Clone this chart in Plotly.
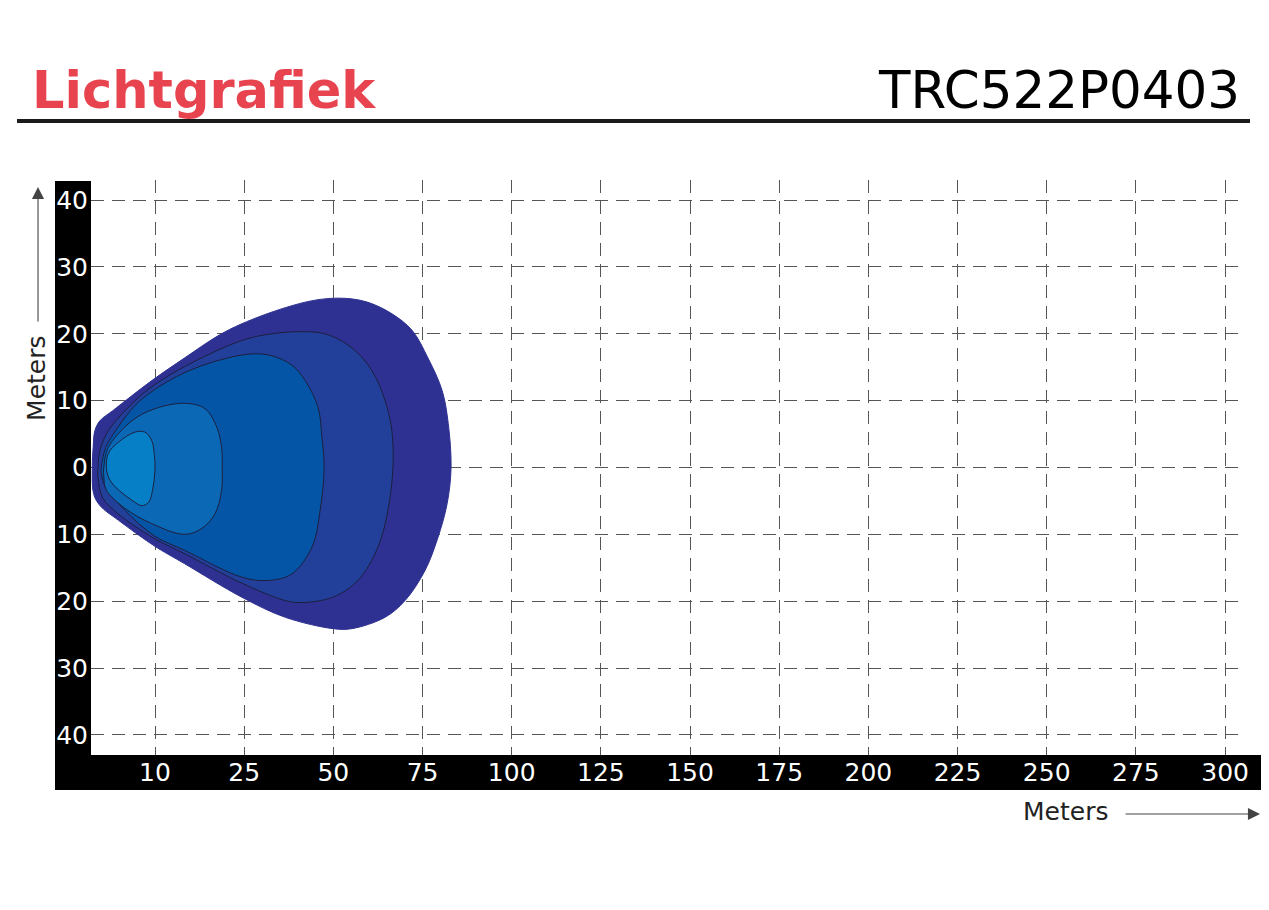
import numpy as np
import plotly.graph_objects as go

# ---------------- data ----------------
X_TICK_METERS = [10, 25, 50, 75, 100, 125, 150, 175, 200, 225, 250, 275, 300]
X_TICK_LABELS = [str(v) for v in X_TICK_METERS]
Y_TICK_VALUES = [-40, -30, -20, -10, 0, 10, 20, 30, 40]
Y_TICK_LABELS = [str(abs(v)) for v in Y_TICK_VALUES]

# isolux contours (x = distance in meters, y = lateral meters), outer -> inner
outer_x = [0.2, 0.35, 0.6, 1.4, 3.4, 9.5, 15.0, 20.6, 24.6, 36.5, 45.7, 53.3, 59.7, 66.4, 72.1, 76.5, 80.5, 82.2, 83.0,
           81.9, 79.3, 75.7, 70.1, 64.5, 55.2, 49.9, 36.5, 24.6, 15.0, 9.85, 4.3, 1.4, 0.4]
outer_y = [0, 3.2, 5.5, 7.0, 8.5, 13.0, 16.4, 19.7, 21.5, 23.9, 25.1, 25.3, 24.7, 23.0, 20.5, 16.4, 11.5, 6.6, 0,
           -5.4, -10.5, -15.4, -19.9, -22.4, -24.1, -24.1, -22.4, -19.4, -14.4, -11.7, -7.9, -5.7, -3.9]

c2_x = [1.1, 1.4, 2.7, 6.9, 9.85, 15.0, 24.6, 32.8, 40.1, 47.6, 55.2, 60.8, 64.5, 66.4, 66.7,
        65.3, 62.5, 56.9, 49.9, 41.2, 36.5, 24.6, 15.0, 9.85, 4.2, 1.8, 1.1]
c2_y = [0, 2.5, 5.5, 10.0, 12.3, 15.1, 19.0, 20.0, 20.3, 20.0, 17.9, 14.5, 10.0, 5.5, 0,
        -6.4, -11.9, -16.9, -19.4, -20.2, -19.9, -17.3, -12.9, -10.6, -6.9, -4.5, -1.5]

c3_x = [1.6, 2.3, 4.2, 6.9, 9.85, 15.0, 20.6, 27.2, 32.8, 38.4, 42.1, 45.7, 46.8, 47.4,
        46.3, 44.0, 38.4, 31.7, 24.6, 15.0, 9.85, 5.3, 2.3, 1.6]
c3_y = [0, 3.0, 6.0, 9.3, 11.6, 14.2, 16.0, 17.0, 16.7, 15.3, 13.0, 9.0, 4.5, 0,
        -6.4, -11.9, -15.9, -16.9, -16.4, -12.4, -10.2, -6.4, -3.0, -0.9]

c4_x = [2.0, 2.7, 6.4, 10.0, 15.0, 18.4, 20.4, 21.2, 21.3, 21.2, 20.1, 17.9, 15.0, 9.5, 5.3, 2.4, 2.0]
c4_y = [0, 3.0, 7.0, 8.8, 9.6, 8.8, 6.0, 3.0, 0, -3.4, -6.9, -9.1, -10.0, -8.4, -6.1, -3.4, -1.4]

c5_x = [2.4, 2.7, 4.3, 6.9, 8.4, 9.5, 9.9, 10.0, 9.7, 9.0, 7.9, 6.4, 3.9, 2.8]
c5_y = [0, 2.1, 3.8, 5.3, 5.3, 4.0, 1.8, 0, -2.9, -5.2, -5.7, -4.9, -3.0, -1.6]

CONTOURS = [
    (outer_x, outer_y, "#2E3192", "#2E3192"),
    (c2_x, c2_y, "#22409A", "#1C1F3F"),
    (c3_x, c3_y, "#0455A6", "#1C1F3F"),
    (c4_x, c4_y, "#0B68B5", "#1C1F3F"),
    (c5_x, c5_y, "#067FC6", "#1C1F3F"),
]

# the distance axis is drawn with evenly spaced tick positions
TICK_POS = list(range(1, len(X_TICK_METERS) + 1))
ORIGIN_POS = 0.282  # position of the lamp (0 m)


def to_pos(m):
    return np.interp(m, [0] + X_TICK_METERS, [ORIGIN_POS] + TICK_POS)


fig = go.Figure()
for xs, ys, fill, line in CONTOURS:
    px = list(to_pos(np.array(xs))) + [float(to_pos(xs[0]))]
    py = list(ys) + [ys[0]]
    fig.add_trace(go.Scatter(
        x=px, y=py, mode="lines", fill="toself", fillcolor=fill,
        line=dict(color=line, width=1, shape="spline", smoothing=1.0),
        hoverinfo="skip", showlegend=False,
    ))

FONT = "DejaVu Sans"
grid = dict(showgrid=True, gridcolor="#555555", gridwidth=1.3, griddash="13px,8px",
            zeroline=False, showline=False, ticks="")

fig.update_layout(
    width=1261, height=902, autosize=False,
    margin=dict(l=83, r=26, t=172, b=155),
    paper_bgcolor="white", plot_bgcolor="rgba(0,0,0,0)",
    xaxis=dict(range=[ORIGIN_POS, 13.201], tickvals=TICK_POS, ticktext=X_TICK_LABELS,
               tickfont=dict(family=FONT, size=25, color="white"), **grid),
    yaxis=dict(range=[-43, 43], tickvals=Y_TICK_VALUES, ticktext=Y_TICK_LABELS,
               tickfont=dict(family=FONT, size=25, color="white"), ticklabelstandoff=2, **grid),
    shapes=[
        dict(type="rect", xref="paper", yref="paper", x0=-0.03125, x1=0, y0=-0.0609, y1=0.9983,
             fillcolor="black", line=dict(width=0), layer="below"),
        dict(type="rect", xref="paper", yref="paper", x0=-0.03125, x1=1.0191, y0=-0.0609, y1=0,
             fillcolor="black", line=dict(width=0), layer="below"),
        dict(type="line", xref="paper", yref="paper", x0=-0.0642, x1=1.00608, y0=1.1026, y1=1.1026,
             line=dict(color="#1a1a1a", width=4)),
    ],
    annotations=[
        dict(text="<b>Lichtgrafiek</b>", xref="paper", yref="paper", x=-0.0530, y=1.1565,
             xanchor="left", yanchor="middle", showarrow=False,
             font=dict(family=FONT, size=51, color="#E8444F")),
        dict(text="TRC522P0403", xref="paper", yref="paper", x=0.9990, y=1.1565,
             xanchor="right", yanchor="middle", showarrow=False,
             font=dict(family=FONT, size=51.5, color="black")),
        dict(text="Meters", xref="paper", yref="paper", x=-0.0469, y=0.6557, textangle=-90,
             xanchor="center", yanchor="middle", showarrow=False,
             font=dict(family=FONT, size=25, color="#222222")),
        dict(text="", xref="paper", yref="paper", x=-0.0460, y=(755 - 187) / 575,
             showarrow=True, ax=0, ay=136, arrowhead=2, arrowsize=2.2, arrowwidth=1.1,
             arrowcolor="#444444"),
        dict(text="Meters", xref="paper", yref="paper", x=0.8455, y=-0.0991,
             xanchor="center", yanchor="middle", showarrow=False,
             font=dict(family=FONT, size=25, color="#222222")),
        dict(text="", xref="paper", yref="paper", x=1.0148, y=-0.1026,
             showarrow=True, ax=-136, ay=0, arrowhead=2, arrowsize=2.2, arrowwidth=1.1,
             arrowcolor="#444444"),
    ],
)

fig.write_html("out.html")
